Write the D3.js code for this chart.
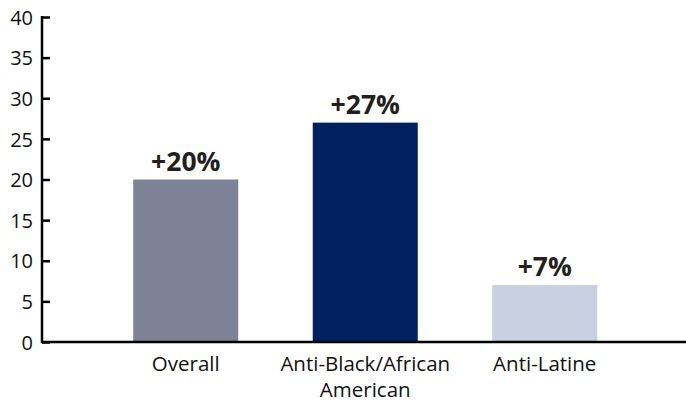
<!DOCTYPE html>
<html>
<head>
<meta charset="utf-8">
<script src="https://cdn.jsdelivr.net/npm/d3@7"></script>
<style>
  html, body { margin: 0; padding: 0; background: #fff; }
  svg { display: block; }
  text { font-family: "Open Sans", sans-serif; }
</style>
</head>
<body>
<svg id="chart" width="686" height="406"></svg>
<script>
// Percentage increase in hate crime reports, by category
const categories = ["Overall", "Anti-Black/African American", "Anti-Latine"];
const categoryLines = [["Overall"], ["Anti-Black/African", "American"], ["Anti-Latine"]];
const values = [20, 27, 7];
const valueLabels = ["+20%", "+27%", "+7%"];
const barColors = ["#7e8296", "#00205f", "#c8cfe0"];
const yTicks = [0, 5, 10, 15, 20, 25, 30, 35, 40];

const svg = d3.select("#chart");
const axisX = 42, yTop = 17, yBase = 342, xRight = 686;

const y = d3.scaleLinear().domain([0, 40]).range([yBase, yTop]);
const x = d3.scaleBand()
  .domain(categories)
  .range([96, 634.5])
  .paddingInner(0.415)
  .paddingOuter(0.2075);

// bars
svg.append("g")
  .selectAll("rect")
  .data(values)
  .join("rect")
  .attr("x", (d, i) => x(categories[i]))
  .attr("width", x.bandwidth())
  .attr("y", d => y(d))
  .attr("height", d => y(0) - y(d))
  .attr("fill", (d, i) => barColors[i]);

// value labels above bars
svg.append("g")
  .selectAll("text")
  .data(values)
  .join("text")
  .attr("x", (d, i) => x(categories[i]) + x.bandwidth() / 2)
  .attr("y", d => y(d) - 9)
  .attr("text-anchor", "middle")
  .attr("font-size", 26.5)
  .attr("font-weight", 700)
  .attr("fill", "#231f20")
  .text((d, i) => valueLabels[i]);

// y axis with inward ticks
const yAxis = d3.axisRight(y)
  .tickValues(yTicks)
  .tickSize(8)
  .tickFormat(d3.format("d"));
const gy = svg.append("g")
  .attr("transform", `translate(${axisX},0)`)
  .call(yAxis);
gy.select(".domain").remove();
gy.selectAll(".tick line").attr("stroke", "#000").attr("stroke-width", 2.5);
gy.selectAll(".tick text")
  .attr("x", -9)
  .attr("dy", "0.36em")
  .attr("text-anchor", "end")
  .attr("font-size", 20)
  .attr("font-family", "'Open Sans', sans-serif")
  .attr("fill", "#111");

svg.append("line")
  .attr("x1", axisX).attr("x2", axisX)
  .attr("y1", yTop - 1).attr("y2", yBase + 1)
  .attr("stroke", "#000").attr("stroke-width", 2.5);

// baseline
svg.append("line")
  .attr("x1", axisX).attr("x2", xRight)
  .attr("y1", yBase).attr("y2", yBase)
  .attr("stroke", "#000").attr("stroke-width", 2.5);

// category labels
const cat = svg.append("g")
  .selectAll("text")
  .data(categories)
  .join("text")
  .attr("x", d => x(d) + x.bandwidth() / 2)
  .attr("y", 371)
  .attr("text-anchor", "middle")
  .attr("font-size", 20.5)
  .attr("fill", "#111");
cat.each(function(d, i) {
  const t = d3.select(this);
  categoryLines[i].forEach((line, j) => {
    t.append("tspan")
      .attr("x", x(d) + x.bandwidth() / 2)
      .attr("dy", j === 0 ? 0 : 26)
      .text(line);
  });
});
</script>
</body>
</html>
